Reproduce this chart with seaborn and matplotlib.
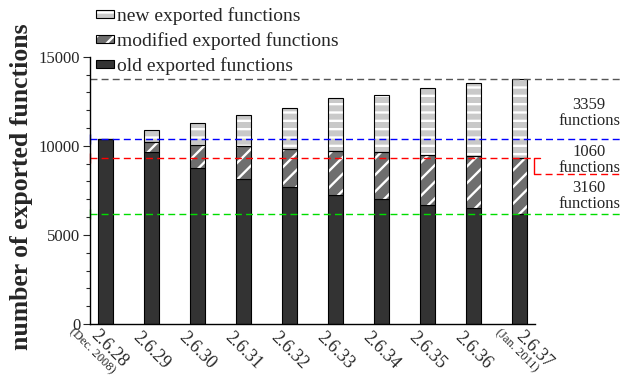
import numpy as np
import seaborn as sns
import matplotlib.pyplot as plt
import matplotlib.ticker as ticker
from matplotlib.patches import Patch
from matplotlib.legend_handler import HandlerTuple

versions = ["2.6.28", "2.6.29", "2.6.30", "2.6.31", "2.6.32",
            "2.6.33", "2.6.34", "2.6.35", "2.6.36", "2.6.37"]
dates = {0: "(Dec. 2008)", 9: "(Jan. 2011)"}
old = [10390, 9650, 8760, 8150, 7680, 7250, 7010, 6670, 6500, 6170]
modified = [0, 560, 1280, 1830, 2140, 2450, 2640, 2840, 2900, 3160]
new = [0, 670, 1240, 1760, 2300, 2960, 3220, 3710, 4120, 4419]
notes = ["3359\nfunctions", "1060\nfunctions", "3160\nfunctions"]

sns.set_style("ticks")
plt.rcParams["font.family"] = ["Liberation Serif", "DejaVu Serif"]
plt.rcParams["hatch.linewidth"] = 1.7

old = np.array(old)
modified = np.array(modified)
new = np.array(new)
mid = old + modified
total = mid + new

fig, ax = plt.subplots(figsize=(6.22, 3.76), dpi=100)
fig.subplots_adjust(left=90/622, right=535/622, bottom=1-324/376, top=1-56.7/376)

w = 0.33
sns.barplot(x=versions, y=old, color="#333333", saturation=1, width=w,
            edgecolor="black", linewidth=0.8, ax=ax)
sns.barplot(x=versions, y=modified, bottom=old, color="#6e6e6e", saturation=1,
            width=w, linewidth=0, ax=ax)
sns.barplot(x=versions, y=new, bottom=mid, color="#c9c9c9", saturation=1,
            width=w, linewidth=0, ax=ax)
# white stripes: hatch colour follows the edge colour
for cont, h in [(ax.containers[1], "//"), (ax.containers[2], "--")]:
    for p in cont:
        p.set_edgecolor("white")
        p.set_linewidth(0)
        p.set_hatch(h)
sns.barplot(x=versions, y=modified, bottom=old, color="black", fill=False,
            width=w, linewidth=0.8, ax=ax)
sns.barplot(x=versions, y=new, bottom=mid, color="black", fill=False,
            width=w, linewidth=0.8, ax=ax)

ax.set_xlim(-0.337, 9.33)
ax.set_ylim(0, 15000)
ax.yaxis.set_major_locator(ticker.MultipleLocator(5000))
ax.yaxis.set_minor_locator(ticker.MultipleLocator(1000))
ax.tick_params(axis="y", which="major", length=5, width=0.8, labelsize=12, pad=2, direction="out")
ax.tick_params(axis="y", which="minor", length=3, width=0.8, direction="out")
ax.tick_params(axis="x", length=0)
ax.set_xticklabels([])
ax.set_xlabel("")
sns.despine(ax=ax)
for s in ["left", "bottom"]:
    ax.spines[s].set_linewidth(1.0)
    ax.spines[s].set_color("black")

# version labels under bars (offsets in pixels)
offs = [(-6, 3)] + [(-10, 5)] * 8 + [(5, 4)]
for i, v in enumerate(versions):
    dx, dy = offs[i]
    ax.annotate(v, xy=(i, 0), xycoords="data",
                xytext=(dx * 0.72, -dy * 0.72), textcoords="offset points",
                rotation=-45, rotation_mode="anchor", ha="left", va="top",
                fontsize=13, annotation_clip=False)
for i, d in dates.items():
    dx, dy = offs[i]
    ax.annotate(d, xy=(i, 0), xycoords="data",
                xytext=((dx - 24) * 0.72, -(dy - 1) * 0.72), textcoords="offset points",
                rotation=-45, rotation_mode="anchor", ha="left", va="top",
                fontsize=9, annotation_clip=False)

# reference lines
tr = ax.get_yaxis_transform()
xr = (622 - 90) / 445
top_line = total[-1]
base_line = old[0]
red_line = mid[-1]
green_line = old[-1]
dash = (0, (5, 3))
ax.plot([0, xr], [top_line, top_line], transform=tr, color="#555555", lw=1, ls=dash, clip_on=False)
ax.plot([0, xr], [base_line, base_line], transform=tr, color="#0000ff", lw=1, ls=dash, clip_on=False)
ax.plot([0, 0.998], [red_line, red_line], transform=tr, color="#ff0000", lw=1, ls=dash, clip_on=False)
ax.plot([0, xr], [green_line, green_line], transform=tr, color="#00dd00", lw=1, ls=dash, clip_on=False)
for y, c in [(base_line, "#0000ff"), (red_line, "#ff0000"), (green_line, "#00dd00")]:
    ax.plot([0], [y], transform=tr, marker="|", ms=7, color=c, clip_on=False)
bracket_y = 8430
ax.plot([1.012, 0.998, 0.998], [red_line, red_line, bracket_y], transform=tr,
        color="#ff0000", lw=1, clip_on=False)
ax.plot([0.998, xr], [bracket_y, bracket_y], transform=tr, color="#ff0000",
        lw=1, ls=dash, clip_on=False)

for txt, yc in zip(notes, [113, 159.5, 196.5]):
    fig.text(589/622, 1 - yc/376, txt, ha="center", va="center",
             fontsize=12, linespacing=1.0)

fig.text(22/622, 1 - 187/376, "number of exported functions", rotation=90,
         ha="center", va="center", fontsize=18.5, fontweight="bold")

handles = [
    (Patch(fc="#c9c9c9", ec="white", hatch="--", lw=0), Patch(fc="none", ec="black", lw=0.8)),
    (Patch(fc="#6e6e6e", ec="white", hatch="//", lw=0), Patch(fc="none", ec="black", lw=0.8)),
    (Patch(fc="#333333", ec="black", lw=0.8),),
]
labels = ["new exported functions", "modified exported functions", "old exported functions"]
fig.legend(handles, labels, loc="upper left", bbox_to_anchor=(96/622, 1 - 7/376),
           frameon=False, fontsize=14, borderpad=0, borderaxespad=0,
           handlelength=0.95, handleheight=0.25, handletextpad=0.15,
           labelspacing=0.36, handler_map={tuple: HandlerTuple(ndivide=1, pad=0)})

fig.savefig("out.png", dpi=100)
